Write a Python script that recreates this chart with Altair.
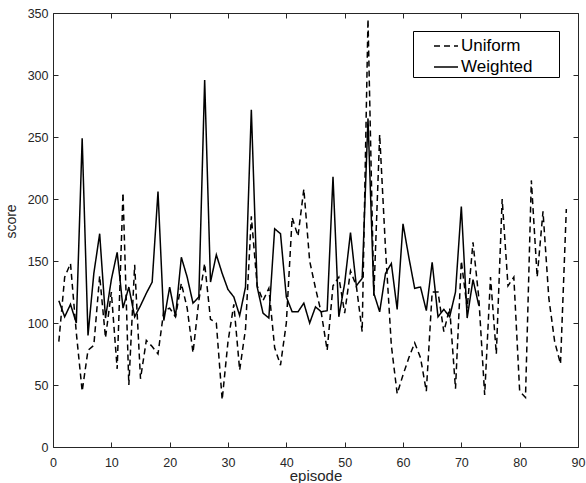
import altair as alt
import pandas as pd

# ---- data ----
uniform = [85, 137, 148, 92, 45, 78, 82, 138, 88, 125,
           63, 205, 50, 147, 55, 86, 81, 75, 110, 112,
           105, 132, 112, 76, 118, 148, 103, 100, 38, 85,
           115, 62, 95, 186, 130, 118, 128, 80, 66, 100,
           185, 170, 208, 150, 128, 108, 78, 130, 137, 108,
           142, 130, 93, 345, 122, 252, 160, 82, 43, 58,
           72, 84, 72, 45, 125, 125, 93, 112, 47, 150,
           112, 165, 120, 42, 137, 75, 200, 130, 137, 45,
           40, 215, 137, 190, 120, 85, 67, 192]
weighted = [118, 105, 115, 100, 249, 90, 140, 172, 104, 135,
            157, 112, 129, 105, 114, 124, 133, 206, 102, 129,
            105, 153, 137, 116, 121, 296, 133, 155, 140, 127,
            121, 106, 129, 272, 129, 108, 104, 176, 172, 121,
            109, 109, 116, 100, 113, 109, 110, 218, 105, 132,
            173, 130, 136, 265, 124, 109, 140, 148, 111, 180,
            153, 128, 129, 110, 149, 105, 111, 105, 125, 194,
            104, 135, 114]
series_names = ["Uniform", "Weighted"]
x_ticks = [0, 10, 20, 30, 40, 50, 60, 70, 80, 90]
y_ticks = [0, 50, 100, 150, 200, 250, 300, 350]

df = pd.DataFrame({
    "episode": list(range(1, len(uniform) + 1)) + list(range(1, len(weighted) + 1)),
    "score": uniform + weighted,
    "series": ["Uniform"] * len(uniform) + ["Weighted"] * len(weighted),
})

W, H = 525, 434
AX = "#262626"
FONT = "Liberation Sans"

xs = alt.Scale(domain=[0, 90], nice=False, zero=False)
ys = alt.Scale(domain=[0, 350], nice=False, zero=False)

base = alt.Chart(df)

lines = base.mark_line(strokeWidth=1.5, color="black").encode(
    x=alt.X("episode:Q", scale=xs, axis=alt.Axis(
        orient="bottom", values=x_ticks, ticks=False, tickSize=0, grid=False,
        domainColor=AX, domainWidth=1, labelColor=AX, labelFont=FONT,
        labelFontSize=12.5, labelPadding=9, labelFlush=False,
        title="episode", titleFont=FONT, titleFontSize=15, titleFontWeight="normal",
        titleColor=AX, titleX=W / 2, titleY=28, titleBaseline="middle")),
    y=alt.Y("score:Q", scale=ys, axis=alt.Axis(
        orient="left", values=y_ticks, ticks=False, tickSize=0, grid=False,
        domainColor=AX, domainWidth=1, labelColor=AX, labelFont=FONT,
        labelFontSize=12.5, labelPadding=5, labelFlush=False,
        title="score", titleFont=FONT, titleFontSize=14, titleFontWeight="normal",
        titleColor=AX, titleX=-42, titleY=208, titleAngle=270,
        titleBaseline="middle")),
    strokeDash=alt.StrokeDash("series:N", scale=alt.Scale(
        domain=series_names, range=[[6, 4], [1, 0]]), legend=alt.Legend(
        orient="none", legendX=360, legendY=18, title=None,
        symbolType="stroke", symbolSize=576, symbolStrokeWidth=1.5,
        symbolStrokeColor="black", labelFont=FONT, labelFontSize=17,
        labelColor="black", strokeColor="black", fillColor="white",
        padding=2, rowPadding=0, symbolOffset=18, labelOffset=2,
        labelExpr="datum.label + '\u2800\u2800'")),
)


def tick_axis(orient, offset, values, domain):
    return alt.Axis(orient=orient, offset=offset, values=values, labels=False,
                    title="", grid=False, ticks=True, tickSize=5, tickColor=AX,
                    tickWidth=1, domain=domain, domainColor=AX, domainWidth=1)


ticks_a = base.mark_line(strokeOpacity=0).encode(
    x=alt.X("episode:Q", scale=xs, axis=tick_axis("top", -H, x_ticks, False)),
    y=alt.Y("score:Q", scale=ys, axis=tick_axis("right", -W, y_ticks, False)),
)
ticks_b = base.mark_line(strokeOpacity=0).encode(
    x=alt.X("episode:Q", scale=xs, axis=tick_axis("bottom", -H, x_ticks, True)),
    y=alt.Y("score:Q", scale=ys, axis=tick_axis("left", -W, y_ticks, True)),
)

chart = alt.layer(lines, ticks_a, ticks_b).resolve_axis(
    x="independent", y="independent"
).properties(
    width=W, height=H,
    padding={"left": 53, "top": 13, "right": 8, "bottom": 36},
    autosize=alt.AutoSizeParams(type="none"),
    background="white",
).configure_view(strokeWidth=0)

chart.save("out.html", embed_options={"renderer": "svg", "actions": False})
